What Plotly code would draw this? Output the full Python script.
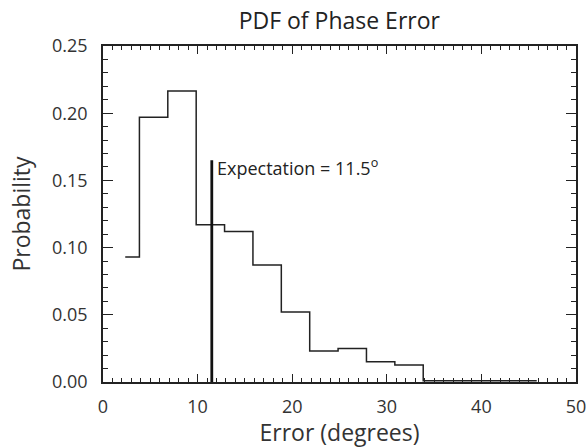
import plotly.graph_objects as go

# Data
bin_edges = [2.35, 3.85, 6.85, 9.85, 12.85, 15.85, 18.85, 21.85, 24.85,
             27.85, 30.85, 33.85, 36.85, 39.85, 42.85, 45.85]
probabilities = [0.093, 0.197, 0.2165, 0.117, 0.112, 0.087, 0.052, 0.023,
                 0.025, 0.015, 0.0127, 0.001, 0.001, 0.001, 0.001]
expectation = 11.5
expectation_height = 0.165
x_ticks = [0, 10, 20, 30, 40, 50]
y_ticks = [0.00, 0.05, 0.10, 0.15, 0.20, 0.25]

FONT = "Open Sans"

fig = go.Figure()
fig.add_trace(go.Scatter(
    x=bin_edges, y=probabilities + [probabilities[-1]],
    mode="lines", line=dict(shape="hv", color="#222", width=1.5),
    hoverinfo="skip", showlegend=False))
fig.add_trace(go.Scatter(
    x=[expectation, expectation], y=[0, expectation_height],
    mode="lines", line=dict(color="#111", width=2.8),
    showlegend=False))
fig.add_annotation(
    x=expectation, y=expectation_height, xref="x", yref="y",
    text="Expectation = %.1f<sup>o</sup>" % expectation,
    showarrow=False, xanchor="left", yanchor="top", xshift=3, yshift=8,
    font=dict(family=FONT, size=18, color="#222"))

axis_common = dict(
    showline=True, linecolor="#222", linewidth=1.5, mirror="allticks",
    ticks="inside", tickcolor="#222", tickwidth=1.2, showgrid=False,
    zeroline=False, automargin=False,
    tickfont=dict(family=FONT, size=18, color="#333"),
)
fig.update_xaxes(
    range=[0, 50], tickvals=x_ticks, ticklen=8,
    minor=dict(dtick=1, ticks="inside", ticklen=4, tickcolor="#222", tickwidth=1),
    title=dict(text="Error (degrees)", font=dict(family=FONT, size=23, color="#333"), standoff=2),
    ticklabelstandoff=8,
    **axis_common)
fig.update_yaxes(
    range=[0, 0.25], tickvals=y_ticks, tickformat=".2f", ticklen=10,
    minor=dict(dtick=0.01, ticks="inside", ticklen=5, tickcolor="#222", tickwidth=1),
    title=dict(text="Probability", font=dict(family=FONT, size=23, color="#333"), standoff=15),
    ticklabelstandoff=10,
    **axis_common)

fig.update_layout(
    width=587, height=448,
    margin=dict(l=103, r=11, t=46, b=66),
    paper_bgcolor="white", plot_bgcolor="white",
    title=dict(text="PDF of Phase Error", x=0.578, xanchor="center", y=0.953, yanchor="middle",
               font=dict(family=FONT, size=23, color="#222")),
)

fig.write_html("out.html")
